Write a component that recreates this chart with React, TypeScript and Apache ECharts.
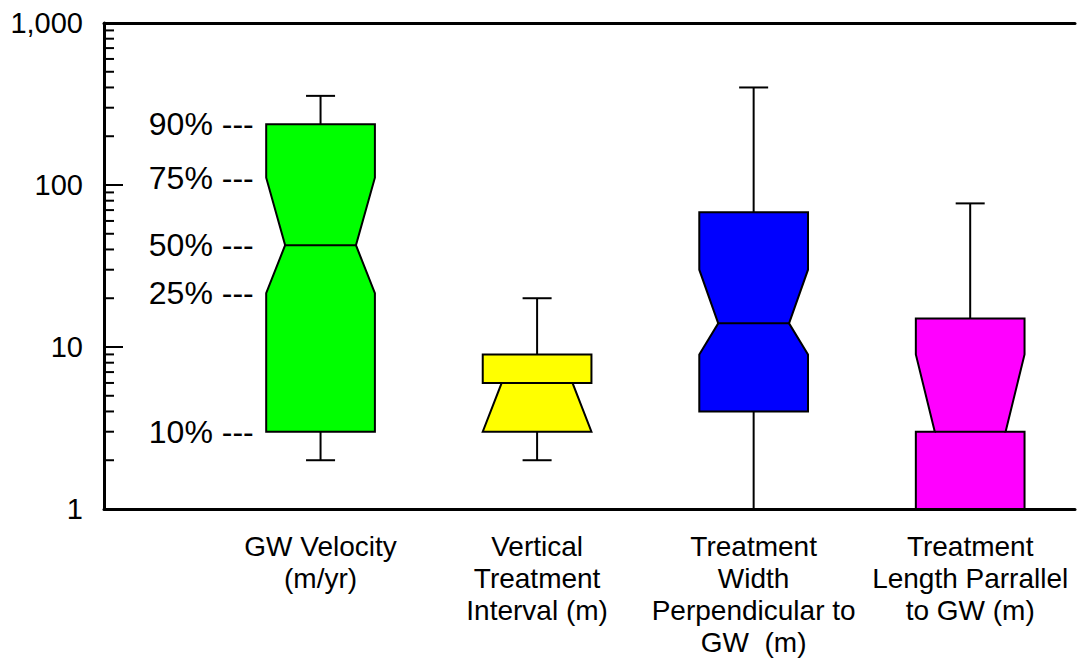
import React, { useEffect, useRef } from 'react';
import * as echarts from 'echarts';

const categories = [
  'GW Velocity\n(m/yr)',
  'Vertical\nTreatment\nInterval (m)',
  'Treatment\nWidth\nPerpendicular to\nGW  (m)',
  'Treatment\nLength Parrallel\nto GW (m)',
];
const boxColors = ['#00ff00', '#ffff00', '#0000ff', '#ff00ff'];
const minValues = [2, 2, 1, 1];
const p10Values = [3, 3, 4, 1];
const p25Values = [21.5, 3, 9, 3];
const medianValues = [42.5, 6, 14, 3];
const p75Values = [111, 6, 30, 9];
const p90Values = [237, 9, 68, 15];
const maxValues = [355, 20, 400, 77];
const percentLabels = ['10%', '25%', '50%', '75%', '90%'];
const yTickValues = [1, 10, 100, 1000];
const yTickLabels = ['1', '10', '100', '1,000'];
const minorTickValues = [2, 3, 4, 5, 6, 7, 8, 9, 20, 30, 40, 50, 60, 70, 80, 90, 200, 300, 400, 500, 600, 700, 800, 900];

const FONT = "'Liberation Sans', Arial, sans-serif";
const X_MAX = 4.484;

export default function App() {
  const ref = useRef<HTMLDivElement>(null);
  useEffect(() => {
    if (!ref.current) return;
    const chart = echarts.init(ref.current, undefined, { renderer: 'svg' });
    const boxData = categories.map((_, i) => [
      i + 1,
      minValues[i],
      p10Values[i],
      p25Values[i],
      medianValues[i],
      p75Values[i],
      p90Values[i],
      maxValues[i],
    ]);
    const option: any = {
      animation: false,
      backgroundColor: '#ffffff',
      grid: { left: 104, right: 0, top: 23, bottom: 151 },
      xAxis: [
        {
          type: 'value',
          min: 0,
          max: X_MAX,
          interval: 1,
          axisLine: { show: true, onZero: false, lineStyle: { color: '#000', width: 3 } },
          axisTick: { show: false },
          splitLine: { show: false },
          axisLabel: {
            show: true,
            margin: 21,
            color: '#000',
            fontSize: 28,
            lineHeight: 32,
            fontFamily: FONT,
            showMinLabel: true,
            showMaxLabel: true,
            formatter: (v: number) => {
              const k = Math.round(v);
              if (Math.abs(v - k) > 1e-6) return '';
              return k >= 1 && k <= categories.length ? categories[k - 1] : '';
            },
          },
        },
        {
          type: 'value',
          position: 'top',
          min: 0,
          max: X_MAX,
          axisLine: { show: true, onZero: false, lineStyle: { color: '#000', width: 3 } },
          axisTick: { show: false },
          axisLabel: { show: false },
          splitLine: { show: false },
        },
      ],
      yAxis: {
        type: 'log',
        logBase: 10,
        min: 1,
        max: 1000,
        axisLine: { show: true, lineStyle: { color: '#000', width: 3 } },
        axisTick: { show: true, inside: true, length: 19, lineStyle: { color: '#000', width: 2 } },
        splitLine: { show: false },
        axisLabel: {
          margin: 21,
          color: '#000',
          fontSize: 29,
          fontFamily: FONT,
          formatter: (v: number) => {
            const idx = yTickValues.findIndex((t) => Math.abs(t - v) / t < 1e-6);
            return idx >= 0 ? yTickLabels[idx] : '';
          },
        },
      },
      series: [
        {
          type: 'custom',
          name: 'minorTicks',
          xAxisIndex: 0,
          data: minorTickValues.map((v) => [0, v]),
          renderItem: (params: any, api: any) => {
            const p = api.coord([0, api.value(1)]);
            return {
              type: 'line',
              shape: { x1: p[0], y1: p[1], x2: p[0] + 10, y2: p[1] },
              style: { stroke: '#000', lineWidth: 2 },
            };
          },
          silent: true,
        },
        {
          type: 'custom',
          name: 'boxes',
          xAxisIndex: 0,
          data: boxData,
          renderItem: (params: any, api: any) => {
            const x = api.value(0);
            const vMin = api.value(1);
            const v10 = api.value(2);
            const v25 = api.value(3);
            const v50 = api.value(4);
            const v75 = api.value(5);
            const v90 = api.value(6);
            const vMax = api.value(7);
            const cx = api.coord([x, v50])[0];
            const step = api.coord([x + 1, v50])[0] - cx;
            const hw = step * 0.251;
            const n = step * 0.0875;
            const cap = step * 0.067;
            const y = (v: number) => api.coord([x, v])[1];
            const L = cx - hw;
            const R = cx + hw;
            const color = boxColors[params.dataIndex];
            const children: any[] = [];
            const lineStyle = { stroke: '#000', lineWidth: 2 };
            if (vMax > v90) {
              children.push({ type: 'line', shape: { x1: cx, y1: y(v90), x2: cx, y2: y(vMax) }, style: lineStyle });
              children.push({ type: 'line', shape: { x1: cx - cap, y1: y(vMax), x2: cx + cap, y2: y(vMax) }, style: lineStyle });
            }
            if (vMin < v10) {
              children.push({ type: 'line', shape: { x1: cx, y1: y(v10), x2: cx, y2: y(vMin) }, style: lineStyle });
              children.push({ type: 'line', shape: { x1: cx - cap, y1: y(vMin), x2: cx + cap, y2: y(vMin) }, style: lineStyle });
            }
            children.push({
              type: 'polygon',
              shape: {
                points: [
                  [L, y(v90)],
                  [R, y(v90)],
                  [R, y(v75)],
                  [R - n, y(v50)],
                  [R, y(v25)],
                  [R, y(v10)],
                  [L, y(v10)],
                  [L, y(v25)],
                  [L + n, y(v50)],
                  [L, y(v75)],
                ],
              },
              style: { fill: color, stroke: '#000', lineWidth: 2, lineJoin: 'miter' },
            });
            children.push({
              type: 'line',
              shape: { x1: L + n, y1: y(v50), x2: R - n, y2: y(v50) },
              style: lineStyle,
            });
            if (params.dataIndex === 0) {
              const levels = [v10, v25, v50, v75, v90];
              levels.forEach((lv, k) => {
                children.push({
                  type: 'text',
                  x: L - 12.5,
                  y: y(lv),
                  style: {
                    text: percentLabels[k] + ' ---',
                    fill: '#000',
                    fontSize: 32,
                    fontFamily: FONT,
                    align: 'right',
                    verticalAlign: 'middle',
                  },
                });
              });
            }
            return { type: 'group', children };
          },
        },
      ],
    };
    chart.setOption(option);
    return () => chart.dispose();
  }, []);
  return (
    <div
      ref={ref}
      style={{ position: 'fixed', left: 0, top: 0, width: 1078, height: 660, background: '#fff' }}
    />
  );
}
